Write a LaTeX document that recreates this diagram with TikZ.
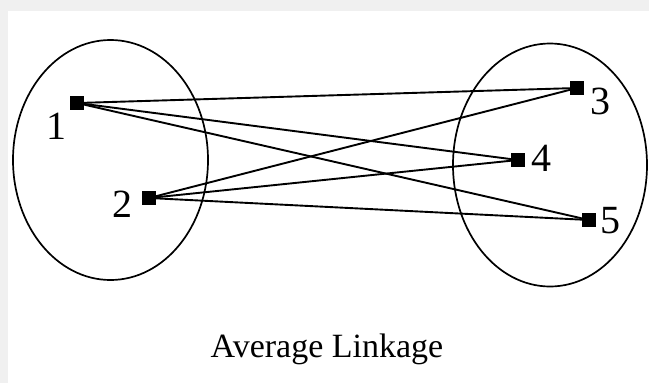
\documentclass[tikz,border=0pt]{standalone}
\usepackage{fontspec}
\setmainfont{Liberation Serif}
\begin{document}
\begin{tikzpicture}[x=1pt,y=-1pt,
  pt/.style={fill=black,draw=none,minimum size=14pt,inner sep=0pt,outer sep=0pt},
  lbl/.style={inner sep=0pt,font=\fontsize{40}{40}\selectfont},
  edge/.style={line width=1.9pt},
  clus/.style={line width=1.7pt}]
\fill[black!6] (0,0) rectangle (649,383);
\fill[white] (8,11) rectangle (649,383);
\useasboundingbox (0,0) rectangle (649,383);
\draw[clus] (110.5,160) ellipse [x radius=97.5pt, y radius=120pt];
\draw[clus] (550,165) ellipse [x radius=97pt, y radius=121.5pt];
\node[pt] (n1) at (77,103) {};
\node[pt] (n2) at (149,198) {};
\node[pt] (n3) at (577,88) {};
\node[pt] (n4) at (518,160) {};
\node[pt] (n5) at (589,220) {};
\draw[edge] (n1.center) -- (n3.center);
\draw[edge] (n1.center) -- (n4.center);
\draw[edge] (n1.center) -- (n5.center);
\draw[edge] (n2.center) -- (n3.center);
\draw[edge] (n2.center) -- (n4.center);
\draw[edge] (n2.center) -- (n5.center);
\node[lbl] (l1) at (56,126) {1};
\node[lbl] (l2) at (122,204) {2};
\node[lbl] (l3) at (600,101) {3};
\node[lbl] (l4) at (541,158) {4};
\node[lbl] (l5) at (610,221) {5};
\node[anchor=base,inner sep=0pt,font=\fontsize{34}{34}\selectfont] (title) at (327,357) {Average Linkage};
\end{tikzpicture}
\end{document}
